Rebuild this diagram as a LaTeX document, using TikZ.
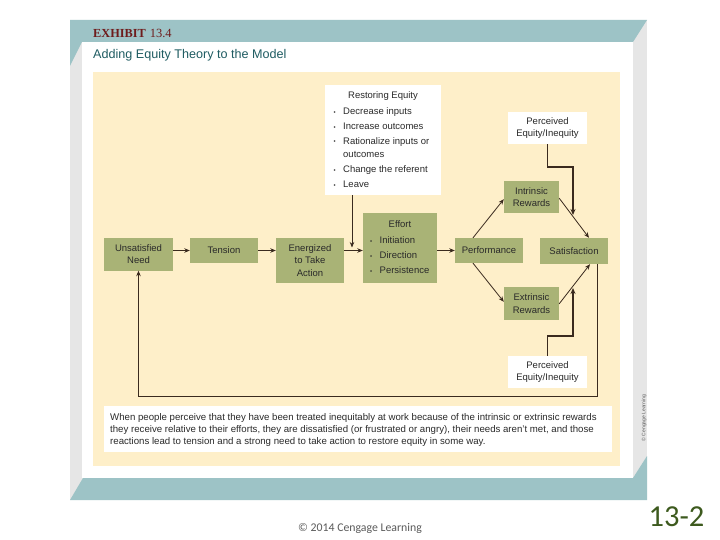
\documentclass[tikz,border=0pt]{standalone}
\usepackage{fontspec}
\setmainfont{Liberation Sans}
\newfontfamily\exhibitfont{Liberation Serif}
\newfontfamily\calibrifont{Carlito}
\usetikzlibrary{arrows.meta,calc}
\definecolor{tealband}{HTML}{9DC3C6}
\definecolor{grayside}{HTML}{E6E6E6}
\definecolor{creamc}{HTML}{FEEFC9}
\definecolor{greenc}{HTML}{A9B376}
\definecolor{linec}{HTML}{3A2A1E}
\definecolor{exred}{HTML}{6E1C1C}
\definecolor{titlet}{HTML}{1F5C62}
\definecolor{txtc}{HTML}{2A2A2A}
\definecolor{copyc}{HTML}{5A5A5A}
\definecolor{pagenum}{HTML}{3D5A1E}
\newcommand\bul{\makebox[9.5pt][l]{\raisebox{0.4pt}{\fontsize{6}{6}\selectfont\textbullet}}}
\tikzset{
  diag/.style={font=\fontsize{9.5}{12.5}\selectfont, text=txtc, align=center, inner sep=0pt},
  greenbox/.style={diag, fill=greenc},
  whitebox/.style={diag, fill=white},
  arr/.style={draw=linec, line width=0.8pt, -{Stealth[length=5.5pt,width=4.5pt]}},
  heavyarr/.style={draw=linec, line width=1.7pt, -{Stealth[length=6pt,width=5pt]}},
}
\begin{document}
\begin{tikzpicture}[x=1pt,y=-1pt]
\useasboundingbox (0,0) rectangle (720,540);
\fill[white] (0,0) rectangle (720,540);
% frame
\fill[grayside] (70,20) rectangle (647,500);
\fill[tealband] (70,20) -- (647,20) -- (633,42) -- (82,42) -- (70,66) -- cycle;
\fill[tealband] (70,500) -- (83,478) -- (633,478) -- (647,456) -- (647,500) -- cycle;
\fill[white] (82,42) rectangle (633,478);
\fill[creamc] (93,72) rectangle (620,466);
% titles
\node[anchor=base west, inner sep=0pt, text=exred] (exhibit) at (93,37.5)
  {{\exhibitfont\bfseries\fontsize{12.3}{13}\selectfont EXHIBIT}\hspace{4pt}{\exhibitfont\fontsize{12.5}{13}\selectfont 13.4}};
\node[anchor=base west, inner sep=0pt, text=titlet, font=\fontsize{12.6}{14}\selectfont] (title) at (93,59)
  {Adding Equity Theory to the Model};
% side credit
\node[inner sep=0pt, rotate=90, text=copyc, font=\fontsize{5}{6}\selectfont] (credit) at (644,418) {© Cengage Learning};
% nodes
\node[greenbox, minimum width=69pt, minimum height=33pt] (unsat) at (138.5,254) {Unsatisfied\\Need};
\node[greenbox, minimum width=68pt, minimum height=25pt] (tension) at (224,250.5) {Tension};
\node[greenbox, minimum width=68pt, minimum height=45pt] (energ) at (310,260.5) {Energized\\to Take\\Action};
\node[greenbox, minimum width=74pt, minimum height=70pt] (effort) at (400,248) {};
\node[diag, anchor=mid] (efforttitle) at (400,225) {Effort};
\node[diag, anchor=mid west] (e1) at (370,241) {\bul Initiation};
\node[diag, anchor=mid west] (e2) at (370,256) {\bul Direction};
\node[diag, anchor=mid west] (e3) at (370,271) {\bul Persistence};
\node[greenbox, minimum width=68pt, minimum height=25pt] (perf) at (489,250.5) {Performance};
\node[greenbox, minimum width=68pt, minimum height=26pt] (sat) at (574,251) {Satisfaction};
\node[greenbox, minimum width=55pt, minimum height=32pt] (intr) at (531.5,197) {Intrinsic\\Rewards};
\node[greenbox, minimum width=55pt, minimum height=33pt] (extr) at (531.5,303.5) {Extrinsic\\Rewards};
\node[whitebox, minimum width=79pt, minimum height=32pt] (ptop) at (547.5,128) {Perceived\\Equity/Inequity};
\node[whitebox, minimum width=79pt, minimum height=32pt] (pbot) at (547.5,372) {Perceived\\Equity/Inequity};
\node[whitebox, minimum width=116pt, minimum height=110pt] (restore) at (383,140) {};
\node[diag, anchor=mid] (restoretitle) at (383,96) {Restoring Equity};
\node[diag, anchor=mid west] (r1) at (333.5,112) {\bul Decrease inputs};
\node[diag, anchor=mid west] (r2) at (333.5,127) {\bul Increase outcomes};
\node[diag, anchor=mid west] (r3) at (333.5,141.5) {\bul Rationalize inputs or};
\node[diag, anchor=mid west] (r3b) at (343,155) {outcomes};
\node[diag, anchor=mid west] (r4) at (333.5,170) {\bul Change the referent};
\node[diag, anchor=mid west] (r5) at (333.5,185) {\bul Leave};
% caption
\node[whitebox, minimum width=508pt, minimum height=46pt] (capbox) at (358,429) {};
\node[diag, anchor=north west, align=left, font=\fontsize{9.65}{12.2}\selectfont] (captext) at (110,413)
  {When people perceive that they have been treated inequitably at work because of the intrinsic or extrinsic rewards\\
   they receive relative to their efforts, they are dissatisfied (or frustrated or angry), their needs aren't met, and those\\
   reactions lead to tension and a strong need to take action to restore equity in some way.};
% connectors
\draw[arr] (unsat.east |- tension.west) -- (tension.west);
\draw[arr] (tension.east) -- (tension.east -| energ.west);
\draw[arr] (energ.east |- tension.east) -- (effort.west |- tension.east);
\coordinate (restoreend) at (352,247.5);
\draw[arr] (restore.south -| restoreend) -- (restoreend);
\draw[arr] (effort.east |- perf.west) -- (perf.west);
\draw[arr] ($(perf.north)+(-16,0)$) -- ($(intr.south west)+(0,-14)$);
\draw[arr] ($(perf.south)+(-16,0)$) -- ($(extr.north west)+(0,15)$);
\draw[arr] ($(intr.south east)+(0,-15)$) -- ($(sat.north)+(15,0)$);
\draw[arr] ($(extr.north east)+(0,17)$) -- ($(sat.south)+(16,0)$);
\coordinate (ptopend) at (573,215);
\coordinate (pbotend) at (573,288);
\draw[heavyarr] (ptop.south) -- ++(0,23) -| (ptopend);
\draw[heavyarr] (pbot.north) -- ++(0,-20) -| (pbotend);
\coordinate (loopR) at (597,396);
\coordinate (loopL) at (138.5,396);
\draw[arr] (sat.south -| loopR) -- (loopR) -- (loopL) -- (unsat.south);
% footer
\node[inner sep=0pt, text=copyc, font=\calibrifont\fontsize{11.8}{12}\selectfont] (copyright) at (360,528) {© 2014 Cengage Learning};
\node[inner sep=0pt, text=pagenum, font=\calibrifont\fontsize{30.5}{30}\selectfont] (pnum) at (676.5,517) {13-2};
\end{tikzpicture}
\end{document}
